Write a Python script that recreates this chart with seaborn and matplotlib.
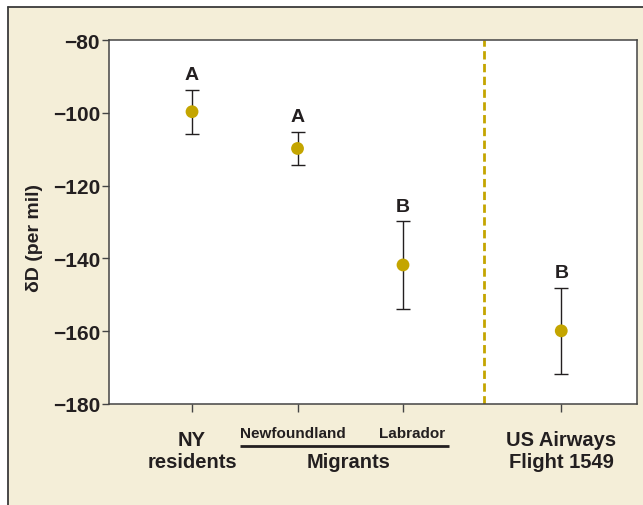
import pandas as pd
import seaborn as sns
import matplotlib.pyplot as plt
import matplotlib.transforms as mtransforms
from matplotlib.patches import Rectangle
from matplotlib.lines import Line2D

# Values
groups = ["NY residents", "Newfoundland", "Labrador", "US Airways Flight 1549"]
xpos = [0, 1, 2, 3.5]
means = [-99.7, -109.8, -141.8, -159.9]
errs = [6.1, 4.6, 12.0, 11.9]
letters = ["A", "A", "B", "B"]
yticks = [-80, -100, -120, -140, -160, -180]

df = pd.DataFrame({"group": groups, "x": xpos, "dD": means, "err": errs})

gold = "#C4A500"
ink = "#231F20"
beige = "#F4EED8"

sns.set_style("ticks")
plt.rcParams["font.family"] = ["Liberation Sans", "DejaVu Sans"]
plt.rcParams["font.weight"] = "bold"
plt.rcParams["axes.labelweight"] = "bold"

fig = plt.figure(figsize=(6.43, 5.06), dpi=100)
fig.patch.set_facecolor("white")

# Beige panel with a dark border on top and left
W, H = 643, 506
fig.patches.append(Rectangle((8 / W, 0), 1, 1 - 8 / H, transform=fig.transFigure,
                             facecolor=beige, edgecolor="none", zorder=-10))
fig.lines.append(Line2D([8 / W, 1], [1 - 8 / H, 1 - 8 / H], transform=fig.transFigure,
                        color="#3A3A3A", lw=1.3))
fig.lines.append(Line2D([8 / W, 8 / W], [0, 1 - 8 / H], transform=fig.transFigure,
                        color="#3A3A3A", lw=1.3))

ax = fig.add_axes([109 / W, 1 - 405 / H, (637 - 109) / W, (405 - 41) / H])
ax.set_facecolor("white")

ax.errorbar(df["x"], df["dD"], yerr=df["err"], fmt="none", ecolor=ink,
            elinewidth=1.0, capsize=5, capthick=1.0, zorder=2)
sns.scatterplot(data=df, x="x", y="dD", color=gold, s=85, edgecolor="none",
                zorder=3, ax=ax, legend=False)

for x, m, e, t in zip(df["x"], df["dD"], df["err"], letters):
    ax.annotate(t, xy=(x, m + e), xytext=(0, 7.5), textcoords="offset points",
                ha="center", va="baseline", fontsize=14, color=ink)

ax.axvline(2.77, color=gold, lw=2, dashes=(3, 1.6), zorder=1)

ax.set_xlim(-0.787, 4.218)
ax.set_ylim(-180, -80)
ax.set_yticks(yticks)
ax.set_xticks([0, 1, 2, 3.5])
ax.set_xticklabels([])
ax.tick_params(axis="y", labelsize=15, length=5, width=1, color="#444444",
               pad=1.5, labelcolor=ink)
ax.tick_params(axis="x", length=6, width=1, color="#444444")
ax.set_xlabel("")
ax.set_ylabel("δD (per mil)", fontsize=14, fontweight="bold", color=ink)
ax.yaxis.set_label_coords(-0.125, 0.459)
for s in ax.spines.values():
    s.set_color("#444444")
    s.set_linewidth(1.1)

# Category labels under the axis
trans = mtransforms.blended_transform_factory(ax.transData, ax.transAxes)
ax.text(0, -0.128, "NY\nresidents", transform=trans, ha="center", va="center",
        fontsize=14.5, color=ink, linespacing=1.15)
ax.text(3.5, -0.128, "US Airways\nFlight 1549", transform=trans, ha="center",
        va="center", fontsize=14.5, color=ink, linespacing=1.15)
ax.text(0.96, -0.0797, "Newfoundland", transform=trans, ha="center", va="center",
        fontsize=11, color=ink)
ax.text(2.09, -0.0797, "Labrador", transform=trans, ha="center", va="center",
        fontsize=11, color=ink)
ax.plot([0.455, 2.44], [-0.1146, -0.1146], transform=trans, color=ink, lw=2,
        clip_on=False, solid_capstyle="butt")
ax.text(1.48, -0.159, "Migrants", transform=trans, ha="center", va="center",
        fontsize=14.5, color=ink)

fig.savefig("out.png", dpi=100, facecolor=fig.get_facecolor())
